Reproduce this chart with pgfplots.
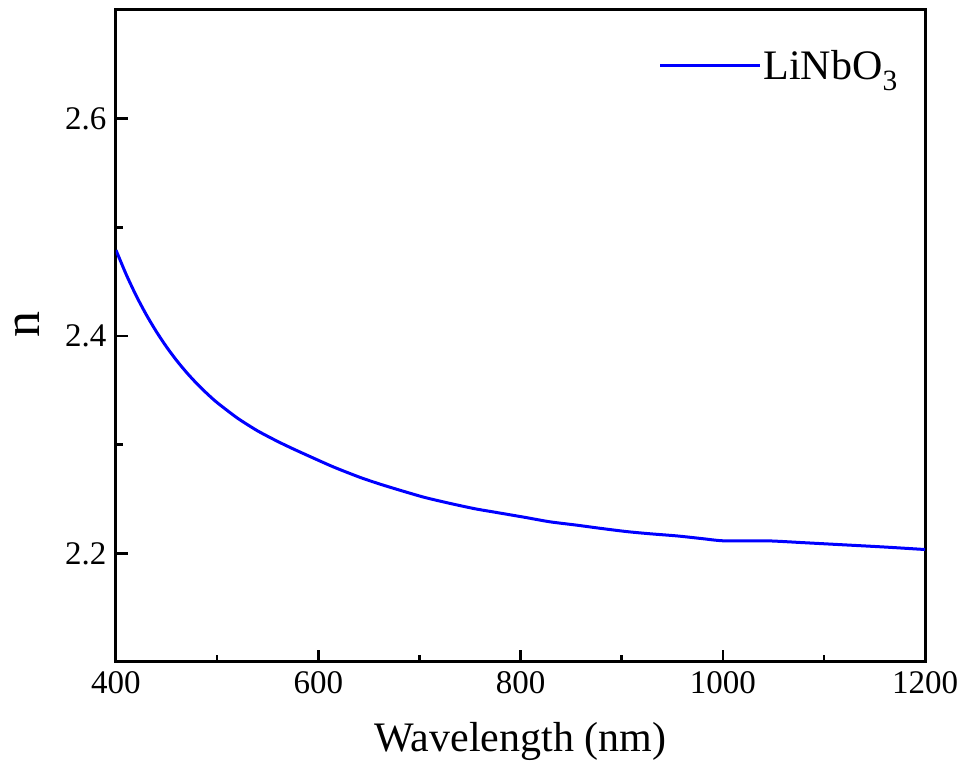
\documentclass[border=0pt]{standalone}
\usepackage{fontspec}
\setmainfont{Liberation Serif}
\usepackage{pgfplots}
\pgfplotsset{compat=1.18}

\begin{document}
\begin{tikzpicture}
\begin{axis}[
  name=ax,
  scale only axis,
  width=809pt,
  height=652pt,
  xmin=400, xmax=1200,
  ymin=2.1, ymax=2.7,
  xtick={400,600,800,1000,1200},
  ytick={2.2,2.4,2.6},
  minor xtick={500,700,900,1100},
  minor ytick={2.3,2.5},
  tick pos=left,
  tick align=inside,
  major tick length=12pt,
  minor tick length=7pt,
  every tick/.style={black,line width=2.5pt},
  axis line style={line width=3pt},
  /pgf/number format/assume math mode=true,
  /pgf/number format/1000 sep={},
  yticklabel style={/pgf/number format/fixed,/pgf/number format/precision=1,/pgf/number format/fixed zerofill},
  tick label style={font=\fontsize{33}{38}\selectfont},
  xticklabel style={yshift=-6pt},
  yticklabel style={xshift=-6pt},
  xlabel={Wavelength (nm)},
  ylabel={n},
  xlabel style={font=\fontsize{42}{48}\selectfont, at={(axis description cs:0.5,0)}, anchor=base, inner sep=0pt, yshift=-90pt},
  ylabel style={font=\fontsize{52}{58}\selectfont, at={(axis description cs:0,0.517)}, anchor=base, inner sep=0pt, yshift=76pt},
  legend style={draw=none, fill=none, font=\fontsize{42}{48}\selectfont,
    at={(1,1)}, anchor=north east, xshift=-22pt, yshift=-36pt},
  legend cell align=left,
  legend image code/.code={\draw[#1,line width=3pt] (0pt,0pt) -- (100pt,0pt);},
]
\addplot[color=blue, line width=3pt, smooth, tension=0.4] coordinates {
  (400,2.479) (410,2.4568) (420,2.4370) (430,2.4195) (440,2.4039)
  (450,2.3899) (460,2.3774) (470,2.3662) (480,2.3561) (490,2.3470)
  (500,2.3387) (520,2.3245) (540,2.3127) (560,2.3029) (575,2.2962)
  (592,2.2890) (615,2.2795) (641,2.2700) (660,2.2640) (681,2.2580)
  (705,2.2515) (730,2.2460) (755,2.2410) (780,2.2370) (805,2.2330)
  (829,2.2290) (855,2.2260) (879,2.2230) (905,2.2200) (928,2.2180)
  (955,2.2160) (980,2.2135) (1001,2.2115) (1044,2.2115) (1080,2.2098)
  (1116,2.2080) (1160,2.2058) (1200,2.2035)
};
\addlegendentry{LiNbO\textsubscript{3}}
\end{axis}
\pgfresetboundingbox
\path ([shift={(-116pt,-103pt)}]ax.south west) rectangle ([shift={(40pt,10pt)}]ax.north east);
\end{tikzpicture}
\end{document}
